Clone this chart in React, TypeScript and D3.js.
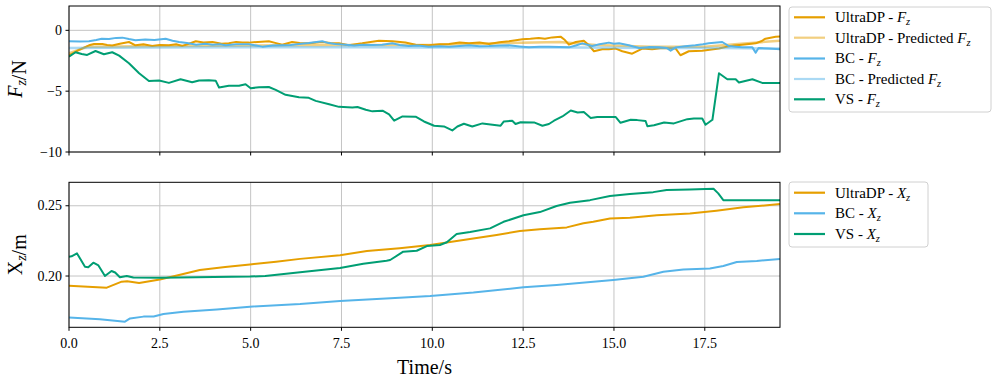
import React from "react";
import * as d3 from "d3";

type P = [number, number];

const xTicks = [0, 2.5, 5, 7.5, 10, 12.5, 15, 17.5];
const xTickLabels = ["0.0", "2.5", "5.0", "7.5", "10.0", "12.5", "15.0", "17.5"];
const fTicks = [0, -5, -10];
const fTickLabels = ["0", "\u22125", "\u221210"];
const xzTicks = [0.2, 0.25];
const xzTickLabels = ["0.20", "0.25"];

const udpFz: P[] = [[0,-2.05],[0.25,-1.65],[0.55,-1.23],[0.69,-1.12],[0.92,-1.12],[1.05,-1.2],[1.19,-1.25],[1.4,-1.1],[1.65,-0.96],[1.83,-1.23],[2.05,-1.15],[2.29,-1.28],[2.5,-1.2],[2.75,-1.23],[2.95,-1.15],[3.12,-1.28],[3.3,-1.1],[3.49,-0.9],[3.7,-1.0],[3.95,-0.96],[4.2,-1.1],[4.4,-1.07],[4.6,-0.95],[4.77,-1.0],[4.95,-1.01],[5.2,-0.95],[5.5,-0.9],[5.7,-1.05],[5.87,-1.18],[6.14,-0.96],[6.35,-1.05],[6.6,-1.07],[6.97,-0.96],[7.2,-1.05],[7.43,-1.07],[7.7,-1.23],[8.07,-1.07],[8.3,-0.95],[8.53,-0.85],[8.9,-0.9],[9.26,-1.0],[9.54,-1.18],[9.9,-1.23],[10.2,-1.15],[10.46,-1.12],[10.75,-1.0],[11.01,-1.07],[11.3,-1.0],[11.56,-1.12],[11.85,-0.98],[12.11,-0.9],[12.3,-0.82],[12.48,-0.74],[12.7,-0.7],[12.93,-0.63],[13.1,-0.7],[13.3,-0.58],[13.53,-0.52],[13.65,-0.8],[13.76,-1.18],[13.95,-0.96],[14.17,-0.85],[14.31,-1.23],[14.45,-1.72],[14.68,-1.56],[14.86,-1.55],[15.05,-1.5],[15.23,-1.72],[15.5,-1.92],[15.78,-1.5],[16.05,-1.55],[16.33,-1.45],[16.7,-1.5],[16.83,-2.05],[17.06,-1.72],[17.43,-1.67],[17.89,-1.5],[18.07,-1.37],[18.3,-1.25],[18.53,-1.18],[18.9,-1.07],[19.05,-0.9],[19.17,-0.69],[19.45,-0.52],[19.57,-0.5]];

const udpPredFz: P[] = [[0,-1.9],[0.5,-1.35],[2,-1.3],[5,-1.25],[8,-1.2],[10,-1.2],[12,-1.05],[13.5,-0.95],[14.5,-1.2],[16,-1.35],[17.5,-1.35],[18.5,-1.1],[19.57,-0.85]];

const bcFz: P[] = [[0,-0.9],[0.3,-0.92],[0.55,-0.9],[0.75,-0.8],[0.9,-0.7],[1.1,-0.72],[1.3,-0.62],[1.47,-0.6],[1.65,-0.72],[1.83,-0.82],[2.1,-0.75],[2.35,-0.8],[2.66,-0.69],[2.85,-0.85],[3.03,-0.96],[3.25,-1.05],[3.5,-1.18],[3.75,-1.1],[3.95,-1.18],[4.15,-1.15],[4.31,-1.23],[4.6,-1.15],[4.95,-1.15],[5.15,-1.25],[5.32,-1.34],[5.6,-1.25],[5.87,-1.23],[6.1,-1.2],[6.33,-1.12],[6.6,-1.05],[6.97,-0.9],[7.15,-1.05],[7.33,-1.12],[7.61,-1.18],[7.85,-1.25],[8.07,-1.18],[8.35,-1.2],[8.62,-1.18],[8.9,-1.07],[9.1,-1.2],[9.35,-1.29],[9.6,-1.25],[9.9,-1.34],[10.2,-1.3],[10.46,-1.34],[10.75,-1.28],[11.01,-1.23],[11.3,-1.3],[11.56,-1.29],[11.85,-1.25],[12.11,-1.23],[12.4,-1.32],[12.66,-1.4],[12.95,-1.35],[13.21,-1.34],[13.5,-1.38],[13.76,-1.4],[13.95,-1.25],[14.13,-1.07],[14.4,-1.29],[14.6,-1.15],[14.86,-1.01],[15.0,-1.1],[15.14,-1.07],[15.41,-1.23],[15.69,-1.45],[15.95,-1.38],[16.24,-1.4],[16.45,-1.45],[16.56,-1.67],[16.7,-1.4],[16.95,-1.3],[17.24,-1.23],[17.45,-1.15],[17.61,-1.07],[17.98,-0.96],[18.16,-1.29],[18.35,-1.35],[18.53,-1.4],[18.81,-1.4],[18.9,-1.83],[18.98,-1.45],[19.25,-1.5],[19.57,-1.56]];

const bcPredFz: P[] = [[0,-1.45],[2,-1.42],[5,-1.4],[8,-1.4],[10,-1.42],[12,-1.4],[14,-1.42],[16,-1.45],[18,-1.45],[19.57,-1.5]];

const vsFz: P[] = [[0,-2.16],[0.18,-1.8],[0.35,-1.95],[0.5,-2.02],[0.73,-1.7],[0.96,-1.97],[1.19,-1.8],[1.38,-2.08],[1.65,-2.7],[1.93,-3.53],[2.2,-4.16],[2.48,-4.13],[2.75,-4.32],[3.07,-4.02],[3.39,-4.27],[3.58,-4.13],[3.85,-4.1],[4.04,-4.15],[4.13,-4.7],[4.4,-4.55],[4.68,-4.55],[4.86,-4.43],[5.0,-4.76],[5.23,-4.68],[5.5,-4.66],[5.69,-4.9],[5.96,-5.3],[6.33,-5.5],[6.6,-5.55],[6.79,-5.8],[7.16,-6.08],[7.43,-6.29],[7.8,-6.35],[7.94,-6.3],[8.17,-6.53],[8.35,-6.66],[8.63,-6.6],[8.81,-6.9],[8.95,-7.43],[9.18,-7.08],[9.54,-7.1],[9.77,-7.49],[10.05,-7.84],[10.32,-7.9],[10.55,-8.23],[10.69,-7.9],[10.87,-7.68],[11.1,-7.9],[11.38,-7.65],[11.88,-7.84],[11.97,-7.49],[12.2,-7.43],[12.29,-7.7],[12.43,-7.55],[12.8,-7.57],[13.03,-7.84],[13.21,-7.7],[13.35,-7.43],[13.58,-7.08],[13.81,-6.59],[14.0,-6.75],[14.17,-6.72],[14.36,-7.21],[14.54,-7.13],[15.05,-7.13],[15.18,-7.6],[15.46,-7.35],[15.64,-7.38],[15.87,-7.45],[15.92,-7.88],[16.1,-7.8],[16.38,-7.57],[16.65,-7.65],[17.02,-7.3],[17.2,-7.24],[17.43,-7.24],[17.52,-7.76],[17.71,-7.35],[17.89,-3.53],[18.12,-4.02],[18.35,-4.02],[18.44,-4.29],[18.81,-4.02],[19.08,-4.32],[19.57,-4.32]];

const udpXz: P[] = [[0,0.1931],[1.04,0.1917],[1.45,0.196],[1.6,0.1962],[1.93,0.195],[2.5,0.1975],[3.0,0.2005],[3.6,0.2043],[4.3,0.2065],[4.98,0.2082],[5.7,0.2102],[6.36,0.2122],[7.46,0.2148],[8.2,0.2178],[9.1,0.2198],[9.94,0.2221],[10.67,0.2249],[11.77,0.2292],[12.41,0.232],[12.96,0.2332],[13.7,0.2346],[14.16,0.2375],[14.43,0.2386],[14.89,0.241],[15.44,0.2414],[16.18,0.2433],[17.09,0.2445],[17.82,0.2465],[18.56,0.2489],[19.57,0.2512]];

const bcXz: P[] = [[0,0.1704],[0.85,0.1693],[1.54,0.1675],[1.68,0.1698],[2.05,0.1711],[2.33,0.1712],[2.6,0.173],[3.15,0.1746],[4.07,0.1762],[4.98,0.1782],[6.36,0.18],[7.46,0.1822],[9.1,0.1846],[9.94,0.1858],[11.13,0.1882],[12.51,0.192],[13.42,0.1936],[14.98,0.1972],[15.81,0.1995],[16.36,0.2031],[16.91,0.2047],[17.64,0.2054],[18.01,0.2071],[18.38,0.21],[18.93,0.2107],[19.57,0.2121]];

const vsXz: P[] = [[0,0.2137],[0.07,0.214],[0.22,0.2161],[0.44,0.2066],[0.53,0.2062],[0.67,0.2095],[0.81,0.2075],[0.99,0.2],[1.17,0.2036],[1.27,0.2025],[1.4,0.1991],[1.59,0.2],[1.77,0.1989],[2.5,0.1987],[4.98,0.1996],[5.4,0.2],[6.36,0.2026],[7.46,0.2057],[8.1,0.2088],[8.74,0.2109],[8.84,0.2114],[9.2,0.2173],[9.57,0.218],[9.85,0.2213],[10.21,0.2221],[10.4,0.224],[10.67,0.2299],[11.04,0.2313],[11.59,0.2339],[11.96,0.2386],[12.51,0.2432],[12.96,0.2455],[13.42,0.2498],[13.79,0.2521],[14.34,0.254],[14.89,0.2569],[15.44,0.2583],[16.08,0.2597],[16.45,0.2612],[17.09,0.2616],[17.74,0.2621],[17.87,0.2588],[18.01,0.254],[18.93,0.254],[19.57,0.254]];

const ORANGE = "#E69F00";
const BLUE = "#56B4E9";
const GREEN = "#009E73";
const FONT = "'Liberation Serif', 'DejaVu Serif', serif";

const L = 69, R = 780;
const topT = 6, topB = 152;
const botT = 182.3, botB = 327.3;

const x = d3.scaleLinear().domain([0, 19.57]).range([L, R]);
const yF = d3.scaleLinear().domain([-10, 2]).range([topB, topT]);
const yX = d3.scaleLinear().domain([0.1635, 0.2667]).range([botB, botT]);

function path(data: P[], y: d3.ScaleLinear<number, number>) {
  return d3.line<P>().x((d) => x(d[0])).y((d) => y(d[1]))(data) || "";
}

function Sub({ base, italicBase, sub }: { base: string; italicBase: boolean; sub: string }) {
  return (
    <>
      <tspan fontStyle={italicBase ? "italic" : "normal"}>{base}</tspan>
      <tspan fontStyle="italic" fontSize="0.7em" dy="0.3em">{sub}</tspan>
      <tspan dy="-0.3em">{""}</tspan>
    </>
  );
}

type LegItem = { color: string; opacity: number; prefix: string; base: string; italicBase: boolean };

function Legend({ x0, y0, w, h, rows, items }: { x0: number; y0: number; w: number; h: number; rows: number[]; items: LegItem[] }) {
  return (
    <g>
      <rect x={x0} y={y0} width={w} height={h} rx={3} fill="white" fillOpacity={0.8} stroke="#d0d0d0" strokeWidth={1} />
      {items.map((it, i) => (
        <g key={i}>
          <line x1={794} x2={825} y1={rows[i]} y2={rows[i]} stroke={it.color} strokeOpacity={it.opacity} strokeWidth={2.2} />
          <text x={835} y={rows[i] + 4.8} fontSize={15} fontFamily={FONT} fill="#000">
            <tspan>{it.prefix}</tspan>
            <Sub base={it.base} italicBase={it.italicBase} sub="z" />
          </text>
        </g>
      ))}
    </g>
  );
}

export default function App() {
  const grid = "#c4c4c4";
  return (
    <svg width={997} height={380} style={{ position: "fixed", left: 0, top: 0, background: "#fff" }}>
      <rect x={0} y={0} width={997} height={380} fill="#fff" />
      {xTicks.map((t, i) => (
        <line key={"tg" + i} x1={x(t)} x2={x(t)} y1={topT} y2={topB} stroke={grid} strokeWidth={1} />
      ))}
      {fTicks.map((v, i) => (
        <line key={"fg" + i} x1={L} x2={R} y1={yF(v)} y2={yF(v)} stroke={grid} strokeWidth={1} />
      ))}
      {xTicks.map((t, i) => (
        <line key={"bg" + i} x1={x(t)} x2={x(t)} y1={botT} y2={botB} stroke={grid} strokeWidth={1} />
      ))}
      {xzTicks.map((v, i) => (
        <line key={"xg" + i} x1={L} x2={R} y1={yX(v)} y2={yX(v)} stroke={grid} strokeWidth={1} />
      ))}

      <defs>
        <clipPath id="clipTop"><rect x={L} y={topT} width={R - L} height={topB - topT} /></clipPath>
        <clipPath id="clipBot"><rect x={L} y={botT} width={R - L} height={botB - botT} /></clipPath>
      </defs>
      <g clipPath="url(#clipTop)" fill="none" strokeLinejoin="round">
        <path d={path(udpFz, yF)} stroke={ORANGE} strokeWidth={2} />
        <path d={path(udpPredFz, yF)} stroke={ORANGE} strokeOpacity={0.5} strokeWidth={2.5} />
        <path d={path(bcFz, yF)} stroke={BLUE} strokeWidth={2} />
        <path d={path(bcPredFz, yF)} stroke={BLUE} strokeOpacity={0.5} strokeWidth={2.5} />
        <path d={path(vsFz, yF)} stroke={GREEN} strokeWidth={2} />
      </g>
      <g clipPath="url(#clipBot)" fill="none" strokeLinejoin="round">
        <path d={path(udpXz, yX)} stroke={ORANGE} strokeWidth={2} />
        <path d={path(bcXz, yX)} stroke={BLUE} strokeWidth={2} />
        <path d={path(vsXz, yX)} stroke={GREEN} strokeWidth={2} />
      </g>

      <rect x={L} y={topT} width={R - L} height={topB - topT} fill="none" stroke="#000" strokeWidth={1} />
      <rect x={L} y={botT} width={R - L} height={botB - botT} fill="none" stroke="#000" strokeWidth={1} />

      {xTicks.map((t, i) => (
        <g key={"xt" + i}>
          <line x1={x(t)} x2={x(t)} y1={topB} y2={topB + 3.5} stroke="#000" />
          <line x1={x(t)} x2={x(t)} y1={botB} y2={botB + 3.5} stroke="#000" />
          <text x={x(t)} y={botB + 21} fontSize={14} fontFamily={FONT} textAnchor="middle">{xTickLabels[i]}</text>
        </g>
      ))}
      {fTicks.map((v, i) => (
        <g key={"ft" + i}>
          <line x1={L - 3.5} x2={L} y1={yF(v)} y2={yF(v)} stroke="#000" />
          <text x={L - 7} y={yF(v) + 4.5} fontSize={14} fontFamily={FONT} textAnchor="end">{fTickLabels[i]}</text>
        </g>
      ))}
      {xzTicks.map((v, i) => (
        <g key={"zt" + i}>
          <line x1={L - 3.5} x2={L} y1={yX(v)} y2={yX(v)} stroke="#000" />
          <text x={L - 7} y={yX(v) + 4.5} fontSize={14} fontFamily={FONT} textAnchor="end">{xzTickLabels[i]}</text>
        </g>
      ))}

      <text transform={`translate(22,${(topT + topB) / 2}) rotate(-90)`} fontSize={20} fontFamily={FONT} textAnchor="middle">
        <Sub base="F" italicBase={true} sub="z" />
        <tspan>/N</tspan>
      </text>
      <text transform={`translate(22,${(botT + botB) / 2}) rotate(-90)`} fontSize={20} fontFamily={FONT} textAnchor="middle">
        <Sub base="X" italicBase={false} sub="z" />
        <tspan>/m</tspan>
      </text>
      <text x={(L + R) / 2} y={374} fontSize={20} fontFamily={FONT} textAnchor="middle">Time/s</text>

      <Legend
        x0={789}
        y0={7}
        w={202}
        h={105}
        rows={[17.3, 37.7, 58.5, 79, 99.3]}
        items={[
          { color: ORANGE, opacity: 1, prefix: "UltraDP - ", base: "F", italicBase: true },
          { color: ORANGE, opacity: 0.5, prefix: "UltraDP - Predicted ", base: "F", italicBase: true },
          { color: BLUE, opacity: 1, prefix: "BC - ", base: "F", italicBase: true },
          { color: BLUE, opacity: 0.5, prefix: "BC - Predicted ", base: "F", italicBase: true },
          { color: GREEN, opacity: 1, prefix: "VS - ", base: "F", italicBase: true },
        ]}
      />
      <Legend
        x0={789}
        y0={182}
        w={139}
        h={65}
        rows={[192.7, 213.3, 234]}
        items={[
          { color: ORANGE, opacity: 1, prefix: "UltraDP - ", base: "X", italicBase: true },
          { color: BLUE, opacity: 1, prefix: "BC - ", base: "X", italicBase: true },
          { color: GREEN, opacity: 1, prefix: "VS - ", base: "X", italicBase: true },
        ]}
      />
    </svg>
  );
}
